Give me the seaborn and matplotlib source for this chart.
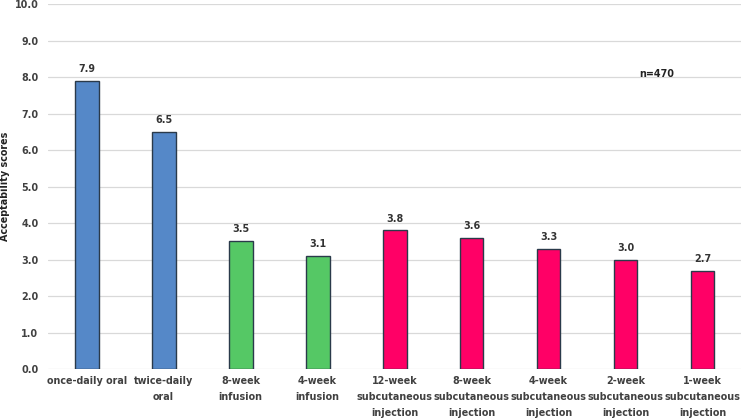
import matplotlib
matplotlib.use("Agg")
import matplotlib.pyplot as plt
import seaborn as sns
import pandas as pd

categories = ["once-daily oral", "twice-daily\noral", "8-week\ninfusion", "4-week\ninfusion",
              "12-week\nsubcutaneous\ninjection", "8-week\nsubcutaneous\ninjection",
              "4-week\nsubcutaneous\ninjection", "2-week\nsubcutaneous\ninjection",
              "1-week\nsubcutaneous\ninjection"]
scores = [7.9, 6.5, 3.5, 3.1, 3.8, 3.6, 3.3, 3.0, 2.7]
groups = ["oral", "oral", "infusion", "infusion", "sc", "sc", "sc", "sc", "sc"]
group_colors = {"oral": "#5588C8", "infusion": "#55C865", "sc": "#FF0066"}
yticks = [0, 1, 2, 3, 4, 5, 6, 7, 8, 9, 10]
note = "n=470"

df = pd.DataFrame({"cat": categories, "score": scores, "group": groups})

sns.set_theme(style="white")
plt.rcParams["font.family"] = ["DejaVu Sans"]
fig = plt.figure(figsize=(7.41, 4.2), dpi=100)
ax = fig.add_axes([0.065, 0.121, 0.935, 0.869])

sns.barplot(data=df, x="cat", y="score", hue="group", palette=group_colors,
            width=0.31, dodge=False, legend=False, ax=ax,
            edgecolor="#2a3a4a", linewidth=1.0, saturation=1)

fs = 6.9
for c in ax.containers:
    labels = [f"{v:.1f}" if v == v else "" for v in c.datavalues]
    ax.bar_label(c, labels=labels, padding=5, fontsize=fs, fontweight="bold", color="#333333")

ax.set_ylim(0, 10)
ax.set_xlim(-0.5, 8.5)
ax.set_yticks(yticks)
ax.set_yticklabels([f"{t:.1f}" for t in yticks], fontsize=fs, fontweight="bold", color="#404040")
ax.set_xticks(range(len(categories)))
ax.set_xticklabels(categories, fontsize=fs, fontweight="bold", color="#404040", linespacing=1.75)
ax.yaxis.grid(True, color="#d9d9d9", linewidth=0.9)
ax.set_axisbelow(True)
for s in ax.spines.values():
    s.set_visible(False)
ax.tick_params(axis="y", length=0, pad=7)
ax.tick_params(axis="x", length=0, pad=5)
ax.set_xlabel("")
ax.set_ylabel("Acceptability scores", fontsize=fs, fontweight="bold", color="#222222")
ax.yaxis.set_label_coords(-0.055, 0.5)
ax.text(7.4, 8.1, note, ha="center", va="center", fontsize=fs, fontweight="bold", color="#222222")

fig.savefig("out.png", dpi=100)
